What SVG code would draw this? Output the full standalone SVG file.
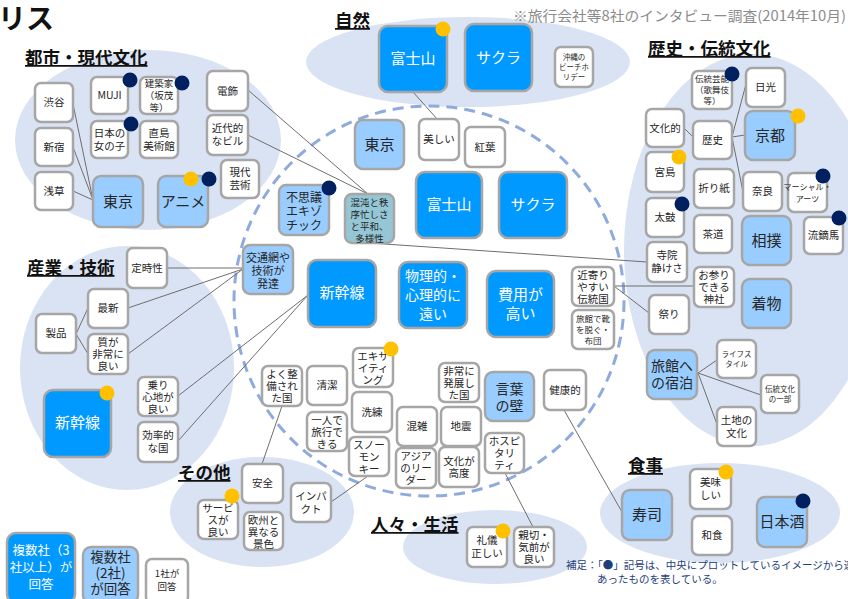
<svg xmlns="http://www.w3.org/2000/svg" width="848" height="599" viewBox="0 0 848 599">
<style>
text{font-family:"Noto Sans CJK JP","Noto Sans",sans-serif;text-anchor:middle;fill:#262626}
.n rect{stroke:#a6a6a6;stroke-width:2.5}
.w rect{fill:#fff}
.lb rect{fill:#99ccff}
.db rect{fill:#0099ff}
.db text{fill:#fff}
.tl rect{fill:#95c6d6}
.s text{font-size:10.5px}
.lb text{font-size:15px}
.db text{font-size:15px}
.grp{fill:#dae3f3}
.lbl{font-size:17.5px;font-weight:bold;text-anchor:start;text-decoration:underline;fill:#111}
.nv{fill:#002060}
.gd{fill:#ffc000}
#connectors line{stroke:#6e6e6e;stroke-width:1}
</style>
<rect width="848" height="599" fill="#fff"/>
<!-- group ellipses -->
<ellipse class="grp" cx="148" cy="140" rx="133" ry="90"/>
<ellipse class="grp" cx="468" cy="62" rx="162" ry="45"/>
<ellipse class="grp" cx="752" cy="250" rx="128" ry="196"/>
<ellipse class="grp" cx="127" cy="368" rx="107" ry="122"/>
<ellipse class="grp" cx="262" cy="512" rx="92" ry="55"/>
<ellipse class="grp" cx="495" cy="547" rx="92" ry="37"/>
<ellipse class="grp" cx="720" cy="513" rx="120" ry="50"/>
<circle cx="429" cy="301" r="195" fill="none" stroke="#8faadc" stroke-width="3" stroke-dasharray="11 7"/>
<!-- titles -->
<text x="-2" y="29" style="font-size:28px;font-weight:bold;text-anchor:start;fill:#111">リス</text>
<text x="513" y="21" textLength="333" lengthAdjust="spacingAndGlyphs" style="font-size:14px;text-anchor:start;fill:#8c8c8c">※旅行会社等8社のインタビュー調査(2014年10月)</text>
<text class="lbl" x="25" y="64">都市・現代文化</text>
<text class="lbl" x="335" y="27">自然</text>
<text class="lbl" x="648" y="55">歴史・伝統文化</text>
<text class="lbl" x="27" y="274">産業・技術</text>
<text class="lbl" x="178" y="479">その他</text>
<text class="lbl" x="371" y="531">人々・生活</text>
<text class="lbl" x="628" y="472">食事</text>
<!-- connectors -->
<g id="connectors">
<line x1="73" y1="104" x2="93" y2="200"/>
<line x1="73" y1="147" x2="93" y2="200"/>
<line x1="73" y1="191" x2="93" y2="200"/>
<line x1="248" y1="90" x2="368" y2="194"/>
<line x1="248" y1="135" x2="368" y2="194"/>
<line x1="413" y1="92" x2="438" y2="120"/>
<line x1="370" y1="243" x2="647" y2="262"/>
<line x1="684" y1="128" x2="694" y2="138"/>
<line x1="732" y1="137" x2="745" y2="135"/>
<line x1="732" y1="137" x2="746" y2="84"/>
<line x1="732" y1="137" x2="743" y2="192"/>
<line x1="614" y1="286" x2="694" y2="286"/>
<line x1="614" y1="286" x2="649" y2="313"/>
<line x1="698" y1="373" x2="717" y2="360"/>
<line x1="698" y1="373" x2="761" y2="395"/>
<line x1="698" y1="373" x2="718" y2="427"/>
<line x1="564" y1="410" x2="622" y2="512"/>
<line x1="76" y1="334" x2="88" y2="308"/>
<line x1="76" y1="334" x2="88" y2="354"/>
<line x1="167" y1="268" x2="243" y2="268"/>
<line x1="128" y1="308" x2="243" y2="269"/>
<line x1="128" y1="354" x2="243" y2="269"/>
<line x1="178" y1="396" x2="308" y2="295"/>
<line x1="178" y1="441" x2="308" y2="295"/>
<line x1="282" y1="406" x2="262" y2="464"/>
<line x1="368" y1="476" x2="331" y2="502"/>
<line x1="505" y1="473" x2="533" y2="527"/>
</g>
<!-- 都市・現代文化 -->
<g id="shibuya" class="n w s"><rect x="35" y="83" width="38" height="39" rx="6"/><text x="54" y="106">渋谷</text></g>
<g id="shinjuku" class="n w s"><rect x="35" y="128" width="38" height="38" rx="6"/><text x="54" y="151">新宿</text></g>
<g id="asakusa" class="n w s"><rect x="35" y="172" width="38" height="38" rx="6"/><text x="54" y="195">浅草</text></g>
<g id="muji" class="n w s"><rect x="91" y="77" width="37" height="37" rx="6"/><text x="109.5" y="99">MUJI</text></g>
<g id="kenchikuka" class="n w"><rect x="140" y="77" width="38" height="37" rx="6"/><text style="font-size:9.5px"><tspan x="159" y="87">建築家</tspan><tspan x="159" y="99">（坂茂</tspan><tspan x="159" y="111">等）</tspan></text></g>
<g id="onnanoko" class="n w s"><rect x="91" y="121" width="37" height="37" rx="6"/><text><tspan x="109.5" y="137">日本の</tspan><tspan x="109.5" y="150">女の子</tspan></text></g>
<g id="naoshima" class="n w s"><rect x="140" y="121" width="38" height="37" rx="6"/><text><tspan x="159" y="137">直島</tspan><tspan x="159" y="150">美術館</tspan></text></g>
<g id="denshoku" class="n w s"><rect x="207" y="71" width="41" height="40" rx="6"/><text x="227.5" y="95">電飾</text></g>
<g id="kindai" class="n w s"><rect x="207" y="115" width="41" height="40" rx="6"/><text><tspan x="227.5" y="132">近代的</tspan><tspan x="227.5" y="145">なビル</tspan></text></g>
<g id="gendai" class="n w s"><rect x="221" y="160" width="38" height="38" rx="6"/><text><tspan x="240" y="176">現代</tspan><tspan x="240" y="189">芸術</tspan></text></g>
<g id="tokyo1" class="n lb"><rect x="93" y="176" width="50" height="51" rx="8"/><text x="118" y="207">東京</text></g>
<g id="anime" class="n lb"><rect x="158" y="176" width="50" height="51" rx="8"/><text x="183" y="207">アニメ</text></g>
<circle class="nv" cx="130" cy="80" r="7.5"/>
<circle class="nv" cx="182" cy="83" r="7.5"/>
<circle class="nv" cx="131" cy="124" r="7.5"/>
<circle class="gd" cx="191" cy="179" r="7.5"/>
<circle class="nv" cx="209" cy="179" r="7.5"/>
<!-- 自然 -->
<g id="fuji1" class="n db"><rect x="379" y="26" width="68" height="66" rx="9"/><text x="413" y="64">富士山</text></g>
<g id="sakura1" class="n db"><rect x="465" y="24" width="67" height="67" rx="9"/><text x="498.5" y="63">サクラ</text></g>
<g id="okinawa" class="n w"><rect x="555" y="47" width="38" height="40" rx="6"/><text style="font-size:7.5px"><tspan x="574" y="60">沖縄の</tspan><tspan x="574" y="70">ビーチホ</tspan><tspan x="574" y="80">リデー</tspan></text></g>
<circle class="gd" cx="443" cy="29" r="7.5"/>
<!-- 中央 -->
<g id="tokyo2" class="n lb"><rect x="355" y="120" width="49" height="49" rx="8"/><text x="379.5" y="150">東京</text></g>
<g id="utsukushii" class="n w s"><rect x="419" y="119" width="40" height="41" rx="6"/><text x="439" y="143">美しい</text></g>
<g id="kouyou" class="n w s"><rect x="465" y="127" width="40" height="40" rx="6"/><text x="485" y="151">紅葉</text></g>
<g id="fushigi" class="n lb"><rect x="279" y="185" width="50" height="50" rx="7"/><text style="font-size:12px"><tspan x="304" y="202">不思議</tspan><tspan x="304" y="216">エキゾ</tspan><tspan x="304" y="230">チック</tspan></text></g>
<g id="konton" class="n tl"><rect x="345" y="194" width="49" height="49" rx="7"/><text style="font-size:9.5px"><tspan x="369.5" y="206">混沌と秩</tspan><tspan x="369.5" y="218">序忙しさ</tspan><tspan x="369.5" y="230">と平和、</tspan><tspan x="369.5" y="242">多様性</tspan></text></g>
<g id="fuji2" class="n db"><rect x="416" y="172" width="66" height="66" rx="9"/><text x="449" y="210">富士山</text></g>
<g id="sakura2" class="n db"><rect x="499" y="172" width="68" height="66" rx="9"/><text x="533" y="210">サクラ</text></g>
<g id="koutsu" class="n lb"><rect x="243" y="245" width="50" height="49" rx="7"/><text style="font-size:11px"><tspan x="268" y="262">交通網や</tspan><tspan x="268" y="275">技術が</tspan><tspan x="268" y="288">発達</tspan></text></g>
<g id="shinkansen2" class="n db"><rect x="308" y="260" width="68" height="67" rx="9"/><text x="342" y="298">新幹線</text></g>
<g id="butsuri" class="n db"><rect x="399" y="262" width="68" height="66" rx="9"/><text style="font-size:14px"><tspan x="433" y="281">物理的・</tspan><tspan x="433" y="300">心理的に</tspan><tspan x="433" y="319">遠い</tspan></text></g>
<g id="hiyou" class="n db"><rect x="487" y="271" width="67" height="66" rx="9"/><text><tspan x="520.5" y="300">費用が</tspan><tspan x="520.5" y="319">高い</tspan></text></g>
<g id="chikayori" class="n w s"><rect x="572" y="267" width="42" height="39" rx="6"/><text><tspan x="593" y="279">近寄り</tspan><tspan x="593" y="291">やすい</tspan><tspan x="593" y="303">伝統国</tspan></text></g>
<g id="ryokankutsu" class="n w"><rect x="572" y="310" width="42" height="39" rx="6"/><text style="font-size:8.5px"><tspan x="593" y="322">旅館で靴</tspan><tspan x="593" y="333">を脱ぐ・</tspan><tspan x="593" y="344">布団</tspan></text></g>
<g id="exciting" class="n w s"><rect x="353" y="348" width="40" height="39" rx="6"/><text><tspan x="373" y="360">エキサ</tspan><tspan x="373" y="372">イティ</tspan><tspan x="373" y="384">ング</tspan></text></g>
<g id="yokuseibi" class="n w s"><rect x="262" y="366" width="40" height="40" rx="6"/><text><tspan x="282" y="378">よく整</tspan><tspan x="282" y="390">備され</tspan><tspan x="282" y="402">た国</tspan></text></g>
<g id="seiketsu" class="n w s"><rect x="307" y="366" width="40" height="39" rx="6"/><text x="327" y="389">清潔</text></g>
<g id="senren" class="n w s"><rect x="352" y="392" width="40" height="40" rx="6"/><text x="372" y="416">洗練</text></g>
<g id="hitori" class="n w s"><rect x="307" y="412" width="40" height="39" rx="6"/><text><tspan x="327" y="424">一人で</tspan><tspan x="327" y="436">旅行で</tspan><tspan x="327" y="448">きる</tspan></text></g>
<g id="snowmonkey" class="n w s"><rect x="349" y="437" width="40" height="39" rx="6"/><text><tspan x="369" y="449">スノー</tspan><tspan x="369" y="461">モン</tspan><tspan x="369" y="473">キー</tspan></text></g>
<g id="konzatsu" class="n w s"><rect x="397" y="407" width="40" height="39" rx="6"/><text x="417" y="430">混雑</text></g>
<g id="jishin" class="n w s"><rect x="441" y="407" width="40" height="39" rx="6"/><text x="461" y="430">地震</text></g>
<g id="hatten" class="n w s"><rect x="439" y="363" width="40" height="39" rx="6"/><text><tspan x="459" y="375">非常に</tspan><tspan x="459" y="387">発展し</tspan><tspan x="459" y="399">た国</tspan></text></g>
<g id="kotoba" class="n lb"><rect x="485" y="372" width="49" height="49" rx="8"/><text style="font-size:14px"><tspan x="509.5" y="394">言葉</tspan><tspan x="509.5" y="411">の壁</tspan></text></g>
<g id="asia" class="n w s"><rect x="396" y="448" width="40" height="40" rx="6"/><text><tspan x="416" y="460">アジア</tspan><tspan x="416" y="472">のリー</tspan><tspan x="416" y="484">ダー</tspan></text></g>
<g id="bunkakoudo" class="n w s"><rect x="439" y="447" width="40" height="40" rx="6"/><text><tspan x="459" y="465">文化が</tspan><tspan x="459" y="477">高度</tspan></text></g>
<g id="hospitality" class="n w s"><rect x="485" y="433" width="39" height="40" rx="6"/><text><tspan x="504.5" y="445">ホスピ</tspan><tspan x="504.5" y="457">タリ</tspan><tspan x="504.5" y="469">ティ</tspan></text></g>
<g id="kenkou" class="n w s"><rect x="544" y="370" width="42" height="40" rx="6"/><text x="565" y="394">健康的</text></g>
<circle class="nv" cx="329" cy="188" r="7.5"/>
<circle class="gd" cx="391" cy="349" r="7.5"/>
<!-- 歴史・伝統文化 -->
<g id="dentougeinou" class="n w"><rect x="692" y="71" width="40" height="38" rx="6"/><text style="font-size:8.5px"><tspan x="712" y="82">伝統芸能</tspan><tspan x="712" y="93">（歌舞伎</tspan><tspan x="712" y="104">等）</tspan></text></g>
<g id="nikko" class="n w s"><rect x="746" y="68" width="39" height="39" rx="6"/><text x="765.5" y="91">日光</text></g>
<g id="bunkateki" class="n w s"><rect x="646" y="109" width="38" height="38" rx="6"/><text x="665" y="132">文化的</text></g>
<g id="rekishi" class="n w s"><rect x="693" y="121" width="39" height="38" rx="6"/><text x="712.5" y="144">歴史</text></g>
<g id="kyoto" class="n lb"><rect x="745" y="111" width="50" height="49" rx="8"/><text x="770" y="141">京都</text></g>
<g id="miyajima" class="n w s"><rect x="646" y="152" width="38" height="40" rx="6"/><text x="665" y="176">宮島</text></g>
<g id="origami" class="n w s"><rect x="694" y="169" width="40" height="39" rx="6"/><text x="714" y="192">折り紙</text></g>
<g id="nara" class="n w s"><rect x="743" y="172" width="39" height="39" rx="6"/><text x="762.5" y="195">奈良</text></g>
<g id="martialarts" class="n w"><rect x="788" y="173" width="39" height="39" rx="6"/><text style="font-size:8px"><tspan x="807.5" y="190">マーシャル・</tspan><tspan x="807.5" y="202">アーツ</tspan></text></g>
<g id="taiko" class="n w s"><rect x="646" y="198" width="38" height="39" rx="6"/><text x="665" y="221">太鼓</text></g>
<g id="sadou" class="n w s"><rect x="694" y="215" width="38" height="38" rx="6"/><text x="713" y="238">茶道</text></g>
<g id="sumou" class="n lb"><rect x="742" y="216" width="49" height="49" rx="8"/><text x="766.5" y="246">相撲</text></g>
<g id="yabusame" class="n w s"><rect x="804" y="217" width="39" height="37" rx="6"/><text x="823.5" y="239">流鏑馬</text></g>
<g id="jiin" class="n w s"><rect x="647" y="242" width="40" height="40" rx="6"/><text><tspan x="667" y="259">寺院</tspan><tspan x="667" y="272">静けさ</tspan></text></g>
<g id="omairi" class="n w s"><rect x="694" y="267" width="40" height="40" rx="6"/><text><tspan x="714" y="279">お参り</tspan><tspan x="714" y="291">できる</tspan><tspan x="714" y="303">神社</tspan></text></g>
<g id="kimono" class="n lb"><rect x="742" y="279" width="49" height="49" rx="8"/><text x="766.5" y="309">着物</text></g>
<g id="matsuri" class="n w s"><rect x="649" y="295" width="40" height="39" rx="6"/><text x="669" y="318">祭り</text></g>
<g id="ryokan" class="n lb"><rect x="647" y="350" width="50" height="49" rx="8"/><text style="font-size:14px"><tspan x="672" y="371">旅館へ</tspan><tspan x="672" y="388">の宿泊</tspan></text></g>
<g id="lifestyle" class="n w"><rect x="717" y="340" width="39" height="38" rx="6"/><text style="font-size:7.5px"><tspan x="736.5" y="357">ライフス</tspan><tspan x="736.5" y="367">タイル</tspan></text></g>
<g id="dentoubunka" class="n w"><rect x="761" y="375" width="38" height="38" rx="6"/><text style="font-size:7.5px"><tspan x="780" y="392">伝統文化</tspan><tspan x="780" y="402">の一部</tspan></text></g>
<g id="tochi" class="n w s"><rect x="717" y="407" width="39" height="39" rx="6"/><text><tspan x="736.5" y="424">土地の</tspan><tspan x="736.5" y="437">文化</tspan></text></g>
<circle class="nv" cx="732" cy="74" r="7.5"/>
<circle class="gd" cx="798" cy="116" r="7.5"/>
<circle class="gd" cx="679" cy="157" r="7.5"/>
<circle class="nv" cx="823" cy="176" r="7.5"/>
<circle class="nv" cx="682" cy="204" r="7.5"/>
<circle class="nv" cx="839" cy="218" r="7.5"/>
<!-- 産業・技術 -->
<g id="teijisei" class="n w s"><rect x="127" y="248" width="40" height="40" rx="6"/><text x="147" y="272">定時性</text></g>
<g id="saishin" class="n w s"><rect x="88" y="289" width="40" height="39" rx="6"/><text x="108" y="312">最新</text></g>
<g id="seihin" class="n w s"><rect x="36" y="314" width="40" height="39" rx="6"/><text x="56" y="337">製品</text></g>
<g id="shitsu" class="n w s"><rect x="88" y="334" width="40" height="40" rx="6"/><text><tspan x="108" y="346">質が</tspan><tspan x="108" y="358">非常に</tspan><tspan x="108" y="370">良い</tspan></text></g>
<g id="shinkansen1" class="n db"><rect x="44" y="390" width="67" height="67" rx="9"/><text x="77.5" y="428">新幹線</text></g>
<g id="norigokochi" class="n w s"><rect x="138" y="377" width="40" height="39" rx="6"/><text><tspan x="158" y="389">乗り</tspan><tspan x="158" y="401">心地が</tspan><tspan x="158" y="413">良い</tspan></text></g>
<g id="kouritsu" class="n w s"><rect x="138" y="422" width="40" height="40" rx="6"/><text><tspan x="158" y="439">効率的</tspan><tspan x="158" y="452">な国</tspan></text></g>
<circle class="gd" cx="107" cy="393" r="7.5"/>
<!-- その他 -->
<g id="anzen" class="n w s"><rect x="242" y="464" width="41" height="39" rx="6"/><text x="262.5" y="487">安全</text></g>
<g id="impact" class="n w s"><rect x="291" y="483" width="40" height="39" rx="6"/><text><tspan x="311" y="500">インパ</tspan><tspan x="311" y="513">クト</tspan></text></g>
<g id="service" class="n w s"><rect x="198" y="500" width="40" height="39" rx="6"/><text><tspan x="218" y="512">サービ</tspan><tspan x="218" y="524">スが</tspan><tspan x="218" y="536">良い</tspan></text></g>
<g id="oushuu" class="n w s"><rect x="244" y="512" width="39" height="38" rx="6"/><text><tspan x="263.5" y="524">欧州と</tspan><tspan x="263.5" y="536">異なる</tspan><tspan x="263.5" y="548">景色</tspan></text></g>
<circle class="gd" cx="232" cy="496" r="7.5"/>
<!-- 人々・生活 -->
<g id="reigi" class="n w s"><rect x="467" y="527" width="40" height="40" rx="6"/><text><tspan x="487" y="544">礼儀</tspan><tspan x="487" y="557">正しい</tspan></text></g>
<g id="shinsetsu" class="n w s"><rect x="514" y="527" width="40" height="40" rx="6"/><text><tspan x="534" y="539">親切・</tspan><tspan x="534" y="551">気前が</tspan><tspan x="534" y="563">良い</tspan></text></g>
<circle class="gd" cx="503" cy="531" r="7.5"/>
<!-- 食事 -->
<g id="sushi" class="n lb"><rect x="622" y="490" width="50" height="50" rx="8"/><text x="647" y="520">寿司</text></g>
<g id="oishii" class="n w s"><rect x="690" y="469" width="41" height="40" rx="6"/><text><tspan x="710.5" y="486">美味</tspan><tspan x="710.5" y="499">しい</tspan></text></g>
<g id="washoku" class="n w s"><rect x="692" y="516" width="40" height="39" rx="6"/><text x="712" y="539">和食</text></g>
<g id="nihonshu" class="n lb"><rect x="757" y="497" width="50" height="50" rx="8"/><text x="782" y="527">日本酒</text></g>
<circle class="gd" cx="726" cy="472" r="7.5"/>
<circle class="nv" cx="803" cy="501" r="7.5"/>
<!-- note -->
<text x="566" y="569" style="font-size:10.5px;text-anchor:start;fill:#1f3f7a">補足：「●」記号は、中央にプロットしているイメージから連想が</text>
<text x="597" y="583" style="font-size:10.5px;text-anchor:start;fill:#1f3f7a">あったものを表している。</text>
<!-- legend -->
<g id="legend3" class="n db"><rect x="7" y="533" width="68" height="70" rx="9"/><text style="font-size:12.5px"><tspan x="41" y="555">複数社（3</tspan><tspan x="41" y="572">社以上）が</tspan><tspan x="41" y="589">回答</tspan></text></g>
<g id="legend2" class="n lb"><rect x="83" y="547" width="55" height="56" rx="8"/><text style="font-size:13.5px"><tspan x="110.5" y="562">複数社</tspan><tspan x="110.5" y="578">(2社)</tspan><tspan x="110.5" y="594">が回答</tspan></text></g>
<g id="legend1" class="n w"><rect x="146" y="559" width="42" height="44" rx="6"/><text style="font-size:9.5px"><tspan x="167" y="577">1社が</tspan><tspan x="167" y="590">回答</tspan></text></g>
</svg>
